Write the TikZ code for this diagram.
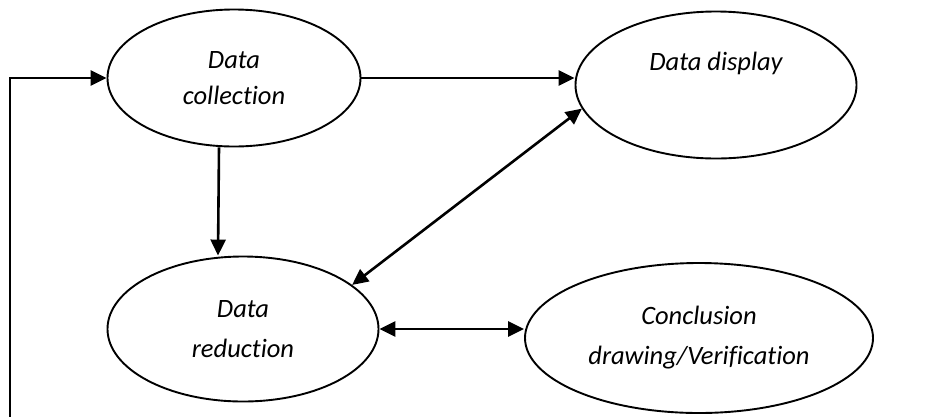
\documentclass[tikz,border=0pt]{standalone}
\usepackage{fontspec}
\setmainfont{Carlito}[Ligatures={NoCommon}]
\usetikzlibrary{shapes.geometric,arrows.meta,calc}
\tikzset{
  oval/.style={ellipse,draw=black,line width=1.9pt,inner sep=0pt,align=center,
    font=\fontsize{26.5}{40}\selectfont\itshape},
  arr/.style={line width=2.6pt,-{Triangle[length=16pt,width=15pt]}},
  darr/.style={line width=2.6pt,{Triangle[length=16pt,width=15pt]}-{Triangle[length=16pt,width=15pt]}},
  lbl/.style={inner sep=0pt,font=\fontsize{26.5}{32}\selectfont\itshape}
}
\begin{document}
\begin{tikzpicture}[x=1pt,y=-1pt]
\useasboundingbox (0,0) rectangle (952,416);
\node[oval,minimum width=253pt,minimum height=137pt,font=\fontsize{26.5}{36}\selectfont\itshape] (dc) at (234,78) {Data\\collection};
\node[oval,minimum width=281pt,minimum height=147pt] (dd) at (716,85) {};
\node[lbl] (ddt) at (716,63) {Data display};
\node[oval,minimum width=271pt,minimum height=145pt] (dr) at (243,329) {Data\\reduction};
\node[oval,minimum width=348pt,minimum height=150pt] (cd) at (699,338) {Conclusion\\drawing/Verification};
\coordinate (fb) at (10,417);
\draw[arr] (fb) |- (dc.west);
\draw[arr] (dc.east) -- (dc.east -| dd.west);
\draw[arr] ([xshift=-15pt]dc.south) -- ([xshift=-25pt]dr.north);
\draw[darr] (dr.22) -- (dd.190);
\draw[darr] (dr.east) -- (dr.east -| cd.west);
\end{tikzpicture}
\end{document}
